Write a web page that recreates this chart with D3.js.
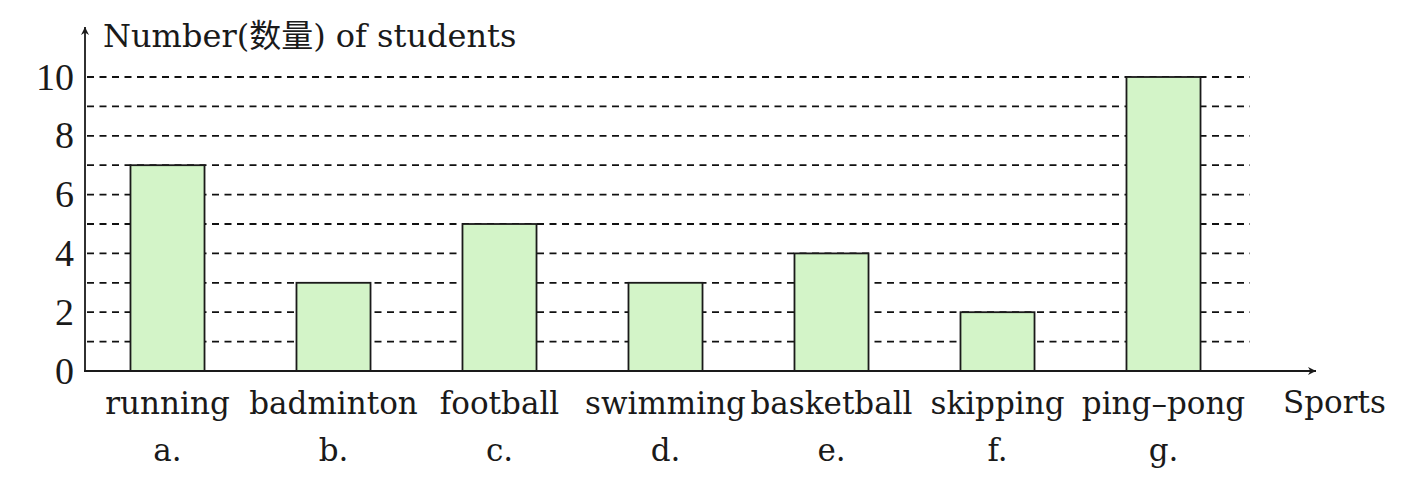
<!DOCTYPE html>
<html>
<head>
<meta charset="utf-8">
<script src="https://cdn.jsdelivr.net/npm/d3@7"></script>
<style>
body { margin: 0; background: #fff; }
text { font-family: "DejaVu Serif", "Noto Sans CJK SC", serif; fill: #1a1a1a; }
</style>
</head>
<body>
<div id="chart"></div>
<script>
var sports = ['running', 'badminton', 'football', 'swimming', 'basketball', 'skipping', 'ping-pong'];
var letters = ['a.', 'b.', 'c.', 'd.', 'e.', 'f.', 'g.'];
var students = [7, 3, 5, 3, 4, 2, 10];
var gridValues = [1, 2, 3, 4, 5, 6, 7, 8, 9, 10];
var tickValues = [0, 2, 4, 6, 8, 10];

drawChart();

function drawChart() {
var W = 1416, H = 481;
var axisX = 85, axisY = 371;

var svg = d3.select('#chart')
.append('svg')
.attr('width', W)
.attr('height', H);

var defs = svg.append('defs');
defs.append('marker')
.attr('id', 'arrow')
.attr('viewBox', '0 0 10 10')
.attr('refX', 10)
.attr('refY', 5)
.attr('markerWidth', 11)
.attr('markerHeight', 8)
.attr('markerUnits', 'userSpaceOnUse')
.attr('orient', 'auto')
.append('path')
.attr('d', 'M0,0 L10,5 L0,10 L3,5 Z')
.style('fill', '#1a1a1a');

var x = d3.scaleBand()
.domain(sports)
.range([axisX, 1246])
.paddingInner(0.554)
.paddingOuter(0.274);

var y = d3.scaleLinear()
.domain([0, 10])
.range([axisY, 77]);

// dashed grid
svg.append('g')
.selectAll('line')
.data(gridValues)
.enter().append('line')
.attr('x1', axisX + 2)
.attr('x2', 1250)
.attr('y1', function(d) { return y(d); })
.attr('y2', function(d) { return y(d); })
.style('stroke', '#111')
.style('stroke-width', 1.8)
.style('stroke-dasharray', '7,5.5');

// bars
svg.append('g')
.selectAll('rect')
.data(students)
.enter().append('rect')
.attr('x', function(d, i) { return x(sports[i]); })
.attr('y', function(d) { return y(d); })
.attr('width', x.bandwidth())
.attr('height', function(d) { return y(0) - y(d); })
.style('fill', '#d3f4c8')
.style('stroke', '#1a1a1a')
.style('stroke-width', 1.8);

// y axis with arrow
svg.append('line')
.attr('x1', axisX).attr('y1', axisY + 1)
.attr('x2', axisX).attr('y2', 27)
.style('stroke', '#1a1a1a')
.style('stroke-width', 1.8)
.attr('marker-end', 'url(#arrow)');

// x axis with arrow
svg.append('line')
.attr('x1', axisX - 1).attr('y1', axisY)
.attr('x2', 1316).attr('y2', axisY)
.style('stroke', '#1a1a1a')
.style('stroke-width', 1.8)
.attr('marker-end', 'url(#arrow)');

// y tick labels
var yAxis = svg.append('g')
.attr('transform', 'translate(' + axisX + ',0)')
.call(d3.axisLeft(y).tickValues(tickValues).tickSize(0).tickPadding(11));
yAxis.select('.domain').remove();
yAxis.selectAll('text')
.attr('font-family', null)
.style('font-family', '"Liberation Serif", serif')
.style('font-size', '38px')
.style('fill', '#1a1a1a');

// category labels
var xAxis = svg.append('g')
.attr('transform', 'translate(0,' + axisY + ')')
.call(d3.axisBottom(x).tickSize(0).tickPadding(0));
xAxis.select('.domain').remove();
xAxis.selectAll('text')
.attr('font-family', null)
.attr('dy', null)
.attr('y', 43)
.style('font-size', '31px')
.style('fill', '#1a1a1a')
.text(function(d) { return d.replace('-', '\u2013'); });

// letters
svg.append('g')
.selectAll('text')
.data(letters)
.enter().append('text')
.attr('x', function(d, i) { return x(sports[i]) + x.bandwidth() / 2; })
.attr('y', 461)
.attr('text-anchor', 'middle')
.style('font-size', '31px')
.text(function(d) { return d; });

// axis titles
svg.append('text')
.attr('x', 103)
.attr('y', 47)
.style('font-size', '32px')
.text('Number(数量) of students');

svg.append('text')
.attr('x', 1283)
.attr('y', 413)
.style('font-size', '31px')
.text('Sports');
}
</script>
</body>
</html>
